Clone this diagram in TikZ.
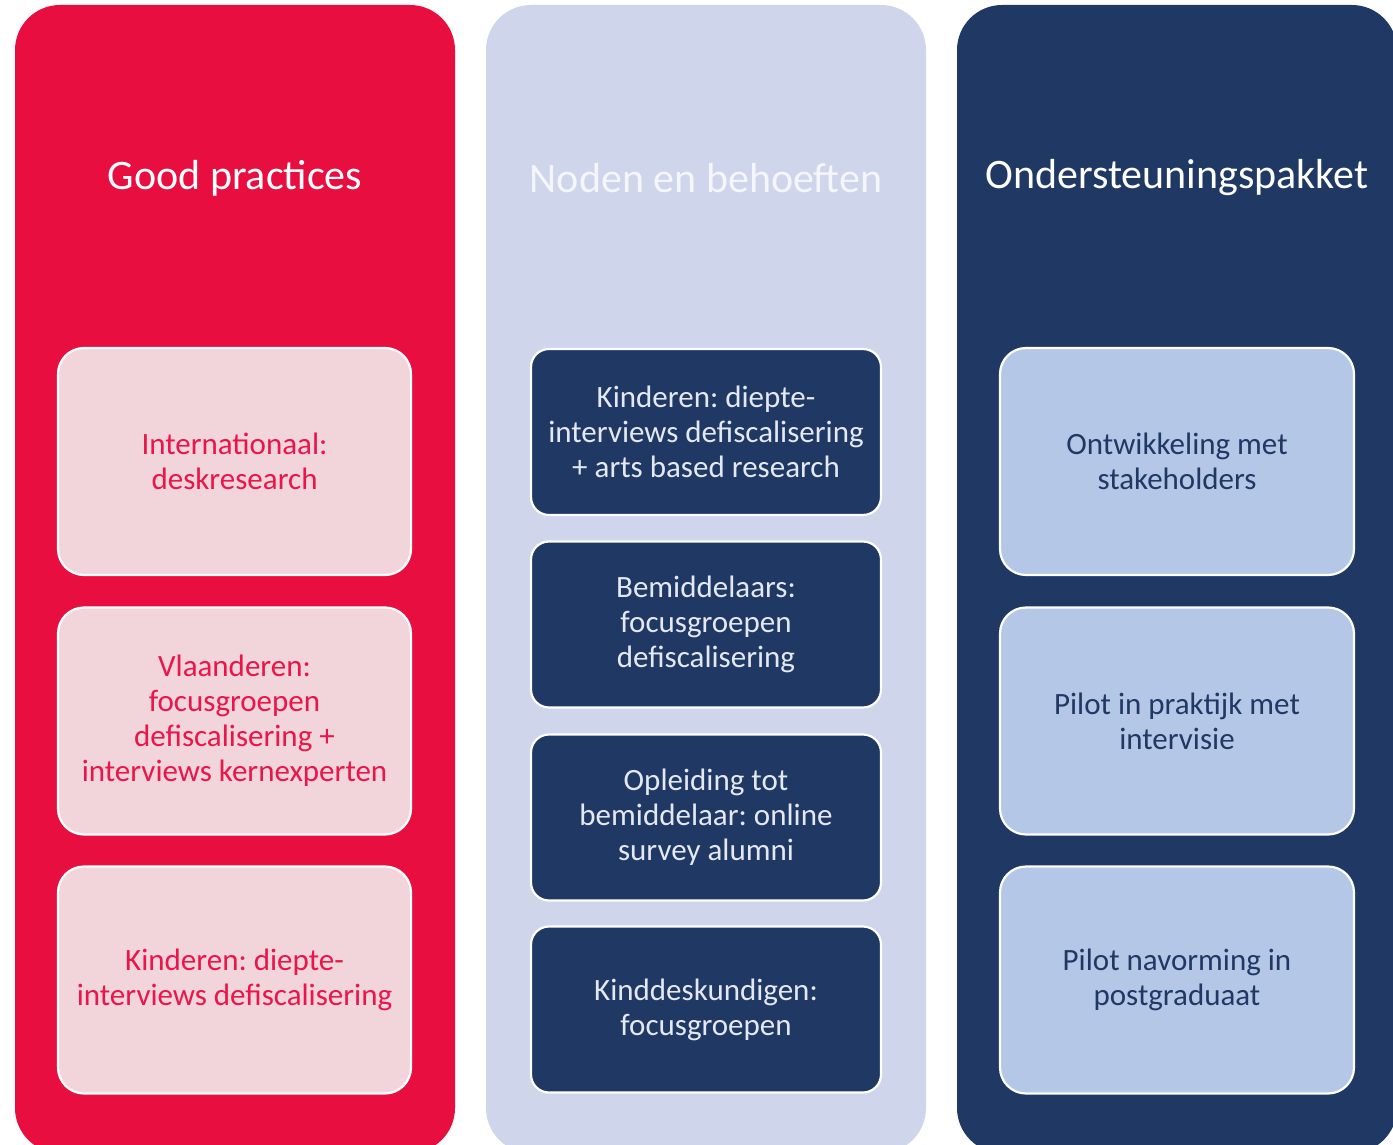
\documentclass[tikz,border=0pt]{standalone}
\usepackage{fontspec}
\setmainfont{Carlito}
\frenchspacing
\definecolor{cred}{HTML}{E80E3F}
\definecolor{cpink}{HTML}{F2D4DB}
\definecolor{clav}{HTML}{CFD5EA}
\definecolor{cnavy}{HTML}{203864}
\definecolor{clblue}{HTML}{B4C7E7}
\definecolor{credtxt}{HTML}{E8164A}
\definecolor{cnavytxt}{HTML}{E4E8F2}
\definecolor{clavtitle}{HTML}{F4F6FB}
\tikzset{
  column/.style={rectangle, rounded corners=45pt, minimum width=440pt, minimum height=1148pt, inner sep=0pt, draw=none},
  coltitle/.style={font=\fontsize{42}{48}\selectfont, inner sep=0pt},
  box/.style={rectangle, draw=white, line width=2.2pt, align=center, inner sep=0pt,
    font=\fontsize{31}{35}\selectfont\frenchspacing},
  redbox/.style={box, fill=cpink, text=credtxt, rounded corners=26pt, minimum width=353pt, minimum height=227pt},
  midbox/.style={box, fill=cnavy, text=cnavytxt, rounded corners=18pt, minimum width=350pt, minimum height=166pt},
  bluebox/.style={box, fill=clblue, text=cnavy, rounded corners=26pt, minimum width=354pt, minimum height=227pt},
}
\begin{document}
\begin{tikzpicture}[x=1pt,y=-1pt]
\useasboundingbox (0,0) rectangle (1393,1145);
\clip (0,0) rectangle (1393,1145);
\fill[white] (0,0) rectangle (1393,1145);
% columns
\node[column, fill=cred]  (c1) at (235,579) {};
\node[column, fill=clav]  (c2) at (706,579) {};
\node[column, fill=cnavy] (c3) at (1177,579) {};
% titles
\node[coltitle, text=white]     (t1) at (235,178) {Good practices};
\node[coltitle, text=clavtitle] (t2) at (706,178) {Noden en behoeften};
\node[coltitle, text=white]     (t3) at (1177,178) {Ondersteuningspakket};
% left boxes
\node[redbox] (l1) at (234.5,461.5) {Internationaal:\\deskresearch};
\node[redbox] (l2) at (234.5,721) {Vlaanderen:\\focusgroepen\\defiscalisering +\\interviews kernexperten};
\node[redbox] (l3) at (234.5,980) {Kinderen: diepte-\\interviews defiscalisering};
% middle boxes
\node[midbox] (m1) at (706,432) {Kinderen: diepte-\\interviews defiscalisering\\+ arts based research};
\node[midbox] (m2) at (706,624.5) {Bemiddelaars:\\focusgroepen\\defiscalisering};
\node[midbox] (m3) at (706,817.5) {Opleiding tot\\bemiddelaar: online\\survey alumni};
\node[midbox] (m4) at (706,1009.5) {Kinddeskundigen:\\focusgroepen};
% right boxes
\node[bluebox] (r1) at (1177,461.5) {Ontwikkeling met\\stakeholders};
\node[bluebox] (r2) at (1177,721) {Pilot in praktijk met\\intervisie};
\node[bluebox] (r3) at (1177,980) {Pilot navorming in\\postgraduaat};
\end{tikzpicture}
\end{document}
